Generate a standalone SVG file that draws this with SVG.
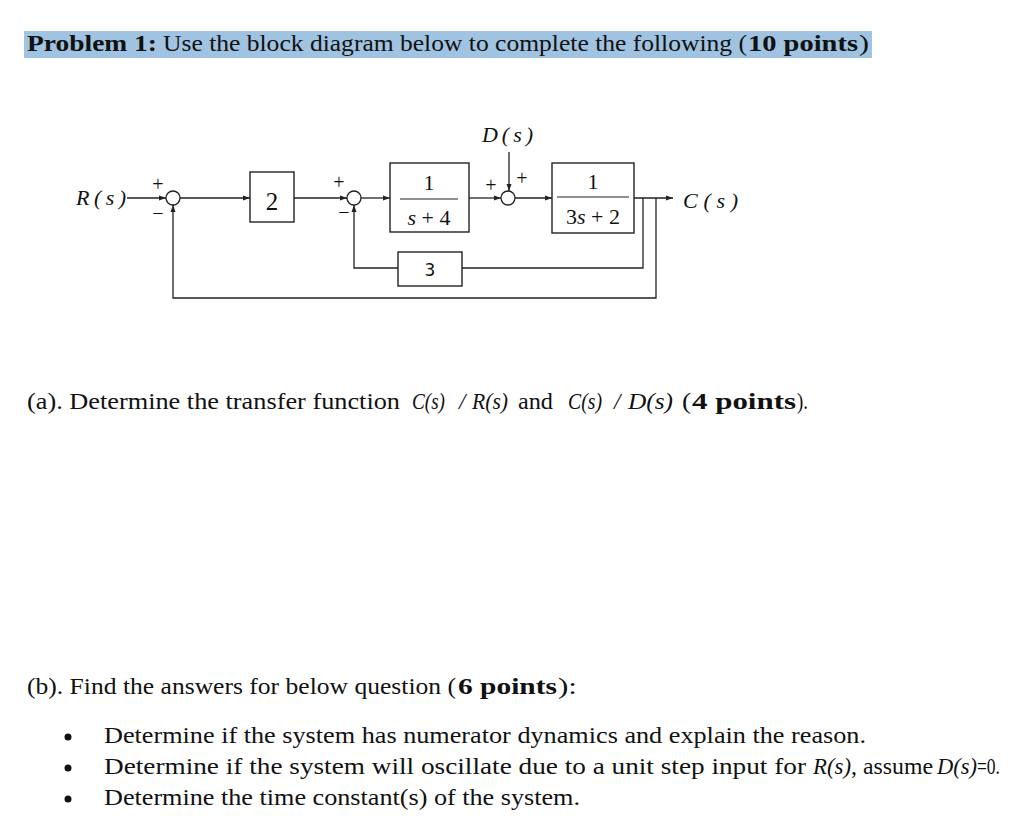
<svg xmlns="http://www.w3.org/2000/svg" width="1024" height="833" viewBox="0 0 1024 833">
<style>
.t{font-family:"Liberation Serif","DejaVu Serif",serif;font-size:23px;fill:#111}
.u{font-size:24px}
.b{font-weight:bold}
.i{font-style:italic}
.m{font-family:"Liberation Serif","DejaVu Serif",serif;fill:#111}
.s{font-family:"DejaVu Sans","Liberation Sans",sans-serif;fill:#111}
.blk{fill:#fff;stroke:#222;stroke-width:1.4}
.sum{fill:#fff;stroke:#222;stroke-width:1.3}
.ln{fill:none;stroke:#222;stroke-width:1.3}
</style>
<defs>
<marker id="ar" markerWidth="7" markerHeight="6" refX="7" refY="3" orient="auto" markerUnits="userSpaceOnUse">
<path d="M0,0.5 L7,3 L0,5.5 Z" fill="#222"/>
</marker>
</defs>
<rect width="1024" height="833" fill="#fff"/>

<!-- Title -->
<rect x="24" y="31" width="848" height="27" fill="#9fc3e0"/>
<text class="t" y="51"><tspan class="b" x="27" textLength="130" lengthAdjust="spacingAndGlyphs">Problem 1:</tspan><tspan x="163" textLength="584" lengthAdjust="spacingAndGlyphs">Use the block diagram below to complete the following (</tspan><tspan class="b" x="748" textLength="110" lengthAdjust="spacingAndGlyphs">10 points</tspan><tspan x="859" textLength="10" lengthAdjust="spacingAndGlyphs">)</tspan></text>

<!-- Diagram -->
<g id="connectors">
<path class="ln" d="M127,198 H166" marker-end="url(#ar)"/>
<path class="ln" d="M180,198 H250" marker-end="url(#ar)"/>
<path class="ln" d="M294,198 H347" marker-end="url(#ar)"/>
<path class="ln" d="M361,198 H390" marker-end="url(#ar)"/>
<path class="ln" d="M469,198 H501" marker-end="url(#ar)"/>
<path class="ln" d="M509,152 V191" marker-end="url(#ar)"/>
<path class="ln" d="M515,198 H552" marker-end="url(#ar)"/>
<path class="ln" d="M634,198 H673" marker-end="url(#ar)"/>
<path class="ln" d="M643,198 V268 H462"/>
<path class="ln" d="M398,268 H354 V205" marker-end="url(#ar)"/>
<path class="ln" d="M656,198 V298 H173 V205" marker-end="url(#ar)"/>
</g>

<g id="input">
<text class="m i" x="76" y="205" font-size="22" textLength="50" lengthAdjust="spacing">R(s)</text>
</g>
<g id="sum1">
<circle class="sum" cx="173" cy="198" r="7"/>
<text class="m" x="158" y="191" font-size="20" text-anchor="middle">+</text>
<text class="m" x="158" y="220" font-size="20" text-anchor="middle">−</text>
</g>
<g id="gain2">
<rect class="blk" x="250" y="172" width="44" height="50"/>
<text class="m" x="272" y="210" font-size="25" text-anchor="middle">2</text>
</g>
<g id="sum2">
<circle class="sum" cx="354" cy="198" r="7"/>
<text class="m" x="339" y="189" font-size="20" text-anchor="middle">+</text>
<text class="m" x="344" y="219" font-size="20" text-anchor="middle">−</text>
</g>
<g id="g1">
<rect class="blk" x="390" y="163" width="79" height="69"/>
<text class="m" x="429" y="190" font-size="22" text-anchor="middle">1</text>
<line x1="400" y1="199" x2="458" y2="199" stroke="#222" stroke-width="1.2"/>
<text class="m" x="429" y="225" font-size="22" text-anchor="middle"><tspan class="i">s</tspan> + 4</text>
</g>
<g id="sum3">
<circle class="sum" cx="508" cy="198" r="7"/>
<text class="m" x="491" y="192" font-size="20" text-anchor="middle">+</text>
<text class="m" x="522" y="185" font-size="20" text-anchor="middle">+</text>
</g>
<g id="disturbance">
<text class="m i" x="482" y="142" font-size="22" textLength="51" lengthAdjust="spacing">D(s)</text>
</g>
<g id="g2">
<rect class="blk" x="552" y="163" width="82" height="70"/>
<text class="m" x="593" y="189" font-size="22" text-anchor="middle">1</text>
<line x1="557" y1="197" x2="629" y2="197" stroke="#222" stroke-width="1.2"/>
<text class="m" x="593" y="224" font-size="22" text-anchor="middle">3<tspan class="i">s</tspan> + 2</text>
</g>
<g id="output">
<text class="m i" x="683" y="208" font-size="22" textLength="55" lengthAdjust="spacing">C(s)</text>
</g>
<g id="gain3">
<rect class="blk" x="398" y="252" width="64" height="34"/>
<text class="s" x="430" y="276" font-size="17" text-anchor="middle">3</text>
</g>

<!-- (a) -->
<text class="t" y="409"><tspan x="27" textLength="373" lengthAdjust="spacingAndGlyphs">(a). Determine the transfer function</tspan><tspan class="i" x="412" textLength="33" lengthAdjust="spacingAndGlyphs">C(s)</tspan><tspan class="i" x="459">/</tspan><tspan class="i" x="472" textLength="36" lengthAdjust="spacingAndGlyphs">R(s)</tspan><tspan x="518" textLength="35" lengthAdjust="spacingAndGlyphs">and</tspan><tspan class="i" x="568" textLength="34" lengthAdjust="spacingAndGlyphs">C(s)</tspan><tspan class="i" x="614">/</tspan><tspan class="i" x="628" textLength="45" lengthAdjust="spacingAndGlyphs">D(s)</tspan><tspan x="682" textLength="9" lengthAdjust="spacingAndGlyphs">(</tspan><tspan class="b" x="692" textLength="104" lengthAdjust="spacingAndGlyphs">4 points</tspan><tspan x="797" textLength="11" lengthAdjust="spacingAndGlyphs">).</tspan></text>

<!-- (b) -->
<text class="t" y="694"><tspan x="27" textLength="429" lengthAdjust="spacingAndGlyphs">(b). Find the answers for below question (</tspan><tspan class="b" x="458" textLength="99" lengthAdjust="spacingAndGlyphs">6 points</tspan><tspan x="558" textLength="19" lengthAdjust="spacingAndGlyphs">):</tspan></text>

<g id="bullets">
<circle cx="68" cy="737" r="3.5" fill="#111"/>
<circle cx="68" cy="768" r="3.5" fill="#111"/>
<circle cx="68" cy="799" r="3.5" fill="#111"/>
</g>
<text class="t u" x="104" y="743" textLength="762" lengthAdjust="spacingAndGlyphs">Determine if the system has numerator dynamics and explain the reason.</text>
<text class="t u" y="774"><tspan x="104" textLength="702" lengthAdjust="spacingAndGlyphs">Determine if the system will oscillate due to a unit step input for</tspan><tspan class="i" x="813" textLength="38" lengthAdjust="spacingAndGlyphs">R(s)</tspan><tspan x="851" textLength="82" lengthAdjust="spacingAndGlyphs">, assume</tspan><tspan class="i" x="937" textLength="40" lengthAdjust="spacingAndGlyphs">D(s)</tspan><tspan x="977" textLength="23" lengthAdjust="spacingAndGlyphs">=0.</tspan></text>
<text class="t u" x="104" y="805" textLength="476" lengthAdjust="spacingAndGlyphs">Determine the time constant(s) of the system.</text>
</svg>
